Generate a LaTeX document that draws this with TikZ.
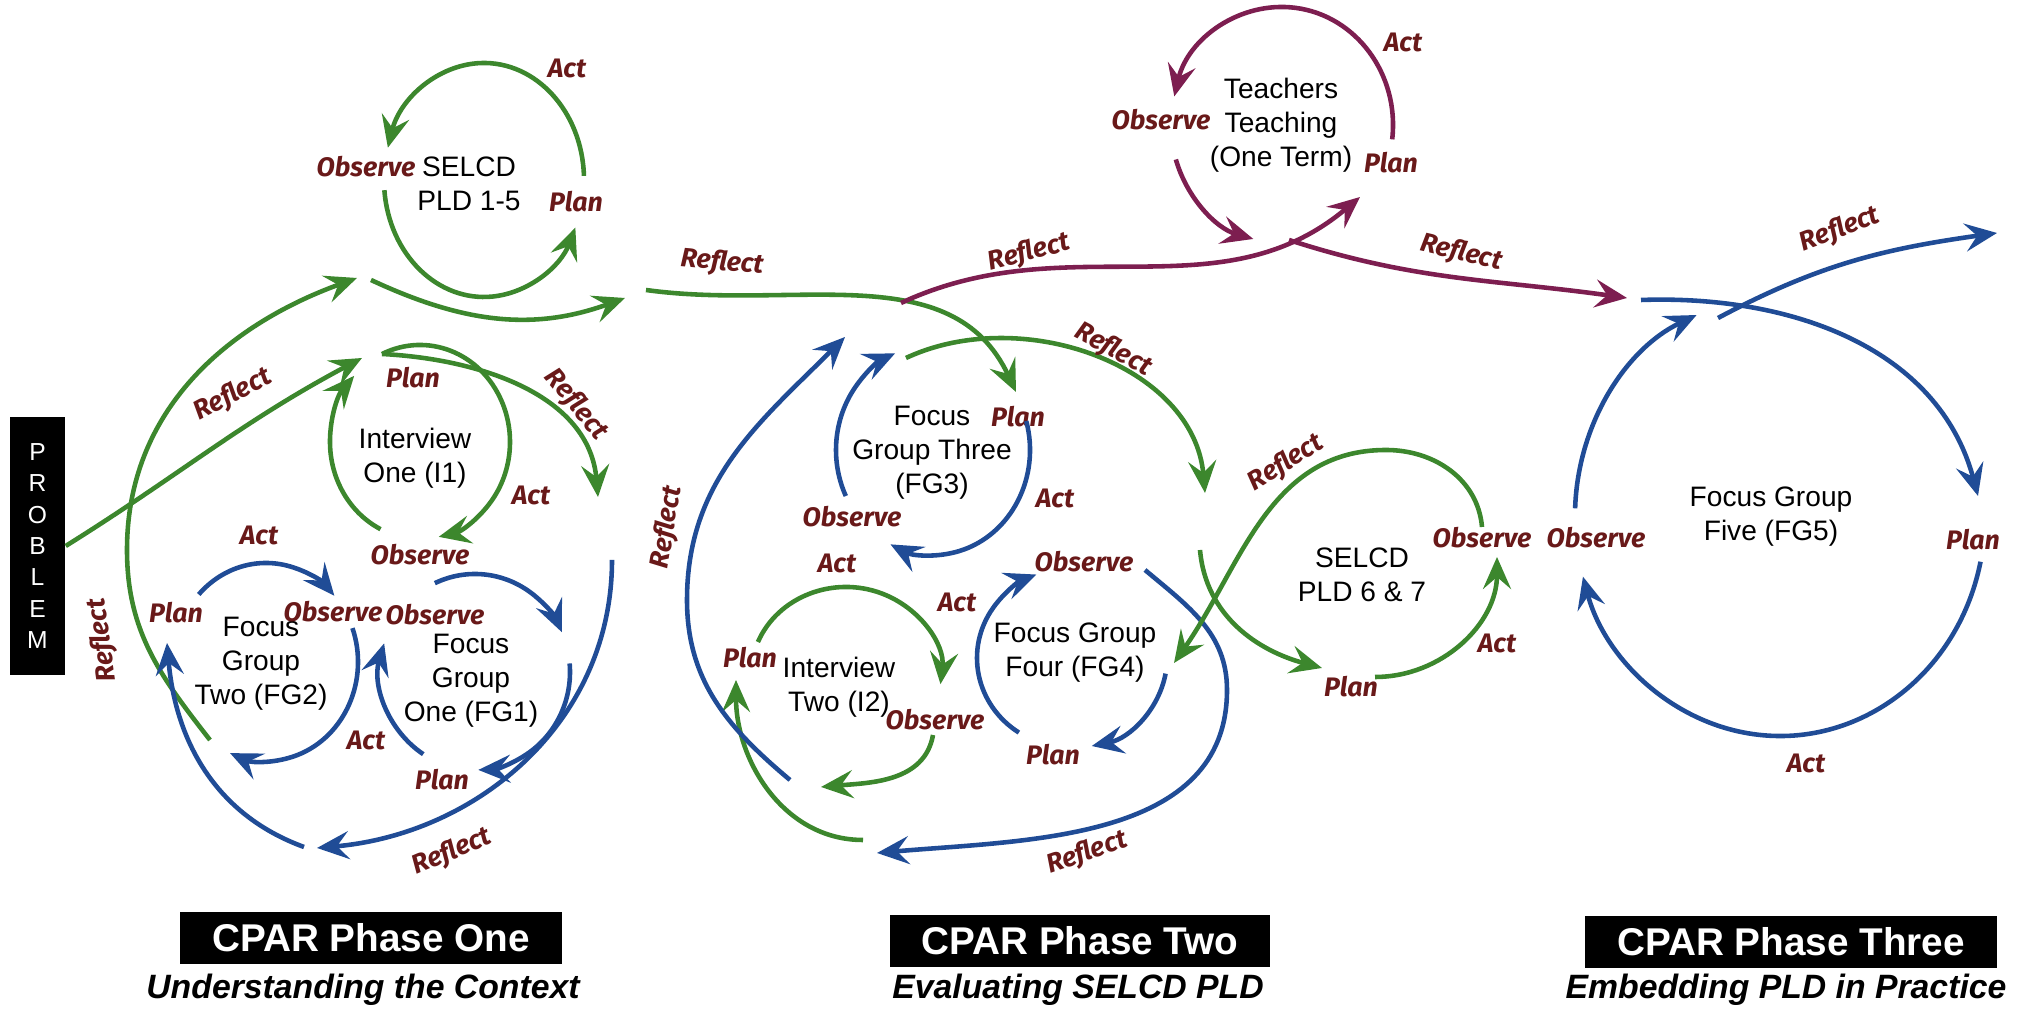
\documentclass[tikz,border=0pt]{standalone}
\usepackage{fontspec}
\setmainfont{Liberation Sans}
\newfontfamily\handfont{Fira Sans}
\usetikzlibrary{arrows.meta,positioning}
\definecolor{cgreen}{RGB}{60,135,45}
\definecolor{cblue}{RGB}{32,76,150}
\definecolor{cplum}{RGB}{125,30,80}
\definecolor{clabel}{RGB}{105,25,25}
\tikzset{
  flow/.style={line width=1.3pt,-{Stealth[length=3.2mm,width=2.8mm,inset=1.2mm]}},
  grn/.style={flow,draw=cgreen},
  blu/.style={flow,draw=cblue},
  plum/.style={flow,draw=cplum},
  stage/.style={font=\handfont\bfseries\itshape\fontsize{7.6}{8}\selectfont,text=clabel,inner sep=0pt},
  cyc/.style={font=\fontsize{8}{9.7}\selectfont,align=center,inner sep=0pt},
  phasebox/.style={fill=black,text=white,font=\bfseries\fontsize{11}{13}\selectfont,
                   inner xsep=3.2mm,inner ysep=0pt,minimum height=5.1mm},
  phasesub/.style={font=\bfseries\itshape\fontsize{9.6}{11}\selectfont,inner sep=0pt},
}

\begin{document}
\begin{tikzpicture}[x=0.01cm,y=0.01cm]
  \useasboundingbox (0,0) rectangle (2033,1010);

  % ===== Phase one =====
  \node[fill=black,text=white,minimum width=5.5mm,minimum height=25.8mm,inner sep=0pt,align=center,
        font=\fontsize{7}{8.9}\selectfont] (prob) at (37.5,464) {P\\R\\O\\B\\L\\E\\M};

  % SELCD PLD 1-5
  \coordinate (selA-c) at (484,830);
  \node[cyc] (selA) at (469,826) {SELCD\\PLD 1-5};
  \node[stage] (selA-act) at (567,942){Act};
  \node[stage] (selA-obs) at (366,843){Observe};
  \node[stage] (selA-plan) at (576,808){Plan};
  \draw[grn] ([shift={(2:100 and 117)}]selA-c) arc[start angle=2,end angle=164,x radius=100,y radius=117];
  \draw[grn] ([shift={(185:100 and 117)}]selA-c) arc[start angle=185,end angle=336,x radius=100,y radius=117];

  % Interview One
  \coordinate (i1-c) at (420,568);
  \node[cyc] (i1) at (415,552) {Interview\\One (I1)};
  \node[stage] (i1-plan) at (413,632){Plan};
  \node[stage] (i1-act) at (531,515){Act};
  \node[stage] (i1-obs) at (420,455){Observe};
  \draw[grn] ([shift={(115:90 and 97)}]i1-c) arc[start angle=115,end angle=-78,x radius=90,y radius=97];
  \draw[grn] ([shift={(244:90 and 97)}]i1-c) arc[start angle=244,end angle=137,x radius=90,y radius=97];

  % Focus Group Two
  \coordinate (fg2-c) at (266,348);
  \node[cyc] (fg2) at (261,346) {Focus\\Group\\Two (FG2)};
  \node[stage] (fg2-act) at (259,475){Act};
  \node[stage] (fg2-plan) at (176,397){Plan};
  \node[stage] (fg2-obs) at (333,398){Observe};
  \draw[blu] ([shift={(137:92 and 99)}]fg2-c) arc[start angle=137,end angle=42,x radius=92,y radius=99];
  \draw[blu] ([shift={(20:92 and 99)}]fg2-c) arc[start angle=20,end angle=-113,x radius=92,y radius=99];

  % Focus Group One
  \coordinate (fg1-c) at (475,338);
  \node[cyc] (fg1) at (471,329) {Focus\\Group\\One (FG1)};
  \node[stage] (fg1-obs) at (435,395){Observe};
  \node[stage] (fg1-act) at (366,270){Act};
  \node[stage] (fg1-plan) at (442,230){Plan};
  \draw[blu] ([shift={(115:95 and 98)}]fg1-c) arc[start angle=115,end angle=24,x radius=95,y radius=98];
  \draw[blu] ([shift={(5:95 and 98)}]fg1-c) arc[start angle=5,end angle=-88,x radius=95,y radius=98];
  \draw[blu] ([shift={(237:95 and 98)}]fg1-c) arc[start angle=237,end angle=163,x radius=95,y radius=98];

  % reflect links, phase one
  \coordinate (i1-in) at (362,652);
  \draw[grn] (prob.east) to[out=32,in=208] (i1-in);
  \node[stage,rotate=28] (r-prob) at (233,615){Reflect};
  \coordinate (fg2R-s) at (210,270); \coordinate (fg2R-m) at (127,460); \coordinate (selA-in) at (357,732);
  \draw[grn] (fg2R-s) to[out=128,in=-90] (fg2R-m) to[out=90,in=200] (selA-in);
  \node[stage,rotate=98] (r-fg2) at (103,370){Reflect};
  \coordinate (selA-o1) at (371,730); \coordinate (selA-o2) at (625,712);
  \draw[grn] (selA-o1) to[out=-25,in=200] (selA-o2);
  \coordinate (i1R-s) at (382,656); \coordinate (i1R-e) at (598,513);
  \draw[grn] (i1R-s) to[out=-3,in=95] (i1R-e);
  \node[stage,rotate=-50] (r-i1) at (576,605){Reflect};
  \coordinate (fg1R-s) at (612,450); \coordinate (fg1R-e) at (317,162);
  \draw[blu] (fg1R-s) to[out=-90,in=5] (fg1R-e);
  \node[stage,rotate=23] (r-fg1) at (452,158){Reflect};
  \coordinate (fg2L-s) at (304,163); \coordinate (fg2-in) at (167,367);
  \draw[blu] (fg2L-s) to[out=160,in=-85] (fg2-in);

  % ===== Phase two =====
  \coordinate (selA-r) at (646,720); \coordinate (fg3-in) at (1016,618);
  \draw[grn] (selA-r) to[out=-8,in=115] (fg3-in);
  \node[stage,rotate=-5] (r-selA) at (722,747){Reflect};

  % Focus Group Three
  \coordinate (fg3-c) at (933,560);
  \node[cyc] (fg3) at (932,557) {Focus\\Group Three\\(FG3)};
  \node[stage] (fg3-plan) at (1018,593){Plan};
  \node[stage] (fg3-act) at (1055,512){Act};
  \node[stage] (fg3-obs) at (852,493){Observe};
  \draw[blu] ([shift={(206:97 and 105)}]fg3-c) arc[start angle=206,end angle=113,x radius=97,y radius=105];
  \draw[blu] ([shift={(16:97 and 105)}]fg3-c) arc[start angle=16,end angle=-116,x radius=97,y radius=105];
  \coordinate (fg3R-s) at (906,652); \coordinate (fg3R-e) at (1205,517);
  \draw[grn] (fg3R-s) to[out=25,in=95] (fg3R-e);
  \node[stage,rotate=-28] (r-fg3) at (1113,660){Reflect};

  % Interview Two
  \coordinate (i2-c) at (846,335);
  \node[cyc] (i2) at (839,323) {Interview\\Two (I2)};
  \node[stage] (i2-plan) at (750,352){Plan};
  \node[stage] (i2-act) at (837,447){Act};
  \node[stage] (i2-obs) at (935,290){Observe};
  \draw[grn] ([shift={(158:95 and 88)}]i2-c) arc[start angle=158,end angle=-6,x radius=95,y radius=88];
  \coordinate (i2B-s) at (933,275); \coordinate (i2B-e) at (821,223);
  \draw[grn] (i2B-s) to[out=-100,in=5] (i2B-e);
  \coordinate (i2R-s) at (863,170); \coordinate (i2-in) at (736,330);
  \draw[grn] (i2R-s) to[out=180,in=-90] (i2-in);
  \coordinate (fg3L-s) at (790,230); \coordinate (fg3L-m) at (687,410); \coordinate (fg3-in2) at (845,673);
  \draw[blu] (fg3L-s) to[out=140,in=-90] (fg3L-m) to[out=90,in=225] (fg3-in2);
  \node[stage,rotate=81] (r-i2) at (667,483){Reflect};

  % Focus Group Four
  \coordinate (fg4-c) at (1072,352);
  \node[cyc] (fg4) at (1075,357) {Focus Group\\Four (FG4)};
  \node[stage] (fg4-obs) at (1084,448){Observe};
  \node[stage] (fg4-plan) at (1053,255){Plan};
  \node[stage] (fg4-act) at (957,408){Act};
  \draw[blu] ([shift={(236:95 and 90)}]fg4-c) arc[start angle=236,end angle=112,x radius=95,y radius=90];
  \draw[blu] ([shift={(-10:95 and 90)}]fg4-c) arc[start angle=-10,end angle=-78,x radius=95,y radius=90];
  \coordinate (fg4R-s) at (1145,440); \coordinate (fg4R-m) at (1227,320); \coordinate (fg4R-e) at (877,157);
  \draw[blu] (fg4R-s) to[out=-40,in=90] (fg4R-m) to[out=-90,in=5] (fg4R-e);
  \node[stage,rotate=19] (r-fg4) at (1087,157){Reflect};

  % SELCD PLD 6 & 7
  \node[cyc] (selB) at (1362,435) {SELCD\\PLD 6 \& 7};
  \node[stage] (selB-obs) at (1482,472){Observe};
  \node[stage] (selB-act) at (1497,367){Act};
  \node[stage] (selB-plan) at (1351,323){Plan};
  \coordinate (selB-p) at (1375,333); \coordinate (selB-o) at (1497,453);
  \draw[grn] (selB-p) to[out=0,in=-90] (selB-o);
  \coordinate (selB-s) at (1200,460); \coordinate (selB-in) at (1322,342);
  \draw[grn] (selB-s) to[out=-85,in=165] (selB-in);
  \coordinate (selB-r) at (1482,483); \coordinate (selB-top) at (1386,560); \coordinate (fg4-in) at (1174,347);
  \draw[grn] (selB-r) to[out=95,in=0] (selB-top) to[out=180,in=55] (fg4-in);
  \node[stage,rotate=32] (r-selB) at (1286,547){Reflect};

  % Teachers Teaching
  \coordinate (tt-c) at (1282,885);
  \node[cyc] (tt) at (1281,885) {Teachers\\Teaching\\(One Term)};
  \node[stage] (tt-act) at (1403,968){Act};
  \node[stage] (tt-obs) at (1161,890){Observe};
  \node[stage] (tt-plan) at (1391,847){Plan};
  \draw[plum] ([shift={(-7:111 and 118)}]tt-c) arc[start angle=-7,end angle=166,x radius=111,y radius=118];
  \draw[plum] ([shift={(197:111 and 118)}]tt-c) arc[start angle=197,end angle=255,x radius=111,y radius=118];
  \coordinate (ttR-s) at (901,707); \coordinate (tt-in) at (1360,813);
  \draw[plum] (ttR-s) to[out=25,in=220] (tt-in);
  \node[stage,rotate=15] (r-tt1) at (1029,757){Reflect};
  \coordinate (ttR2-s) at (1289,770); \coordinate (fg5-in) at (1627,712);
  \draw[plum] (ttR2-s) to[out=-18,in=172] (fg5-in);
  \node[stage,rotate=-13] (r-tt2) at (1461,757){Reflect};

  % ===== Phase three =====
  \coordinate (fg5-c) at (1780,494);
  \node[cyc] (fg5) at (1771,493) {Focus Group\\Five (FG5)};
  \node[stage] (fg5-obs) at (1596,472){Observe};
  \node[stage] (fg5-plan) at (1973,470){Plan};
  \node[stage] (fg5-act) at (1806,247){Act};
  \draw[blu] ([shift={(-12:205 and 220)}]fg5-c) arc[start angle=-12,end angle=-164,x radius=205,y radius=220];
  \draw[blu] ([shift={(178:205 and 220)}]fg5-c) arc[start angle=178,end angle=114,x radius=205,y radius=220];
  \coordinate (fg5T-s) at (1641,710); \coordinate (fg5T-e) at (1978,514);
  \draw[blu] (fg5T-s) to[out=2,in=105] (fg5T-e);
  \coordinate (fg5R-s) at (1718,692); \coordinate (fg5R-e) at (1997,777);
  \draw[blu] (fg5R-s) to[out=28,in=188] (fg5R-e);
  \node[stage,rotate=21] (r-fg5) at (1840,780){Reflect};

  % ===== phase captions =====
  \node[phasebox] (ph1) at (371,72){CPAR Phase One};
  \node[phasesub] (ph1s) at (363,20){Understanding the Context};
  \node[phasebox] (ph2) at (1080,69){CPAR Phase Two};
  \node[phasesub] (ph2s) at (1078,20){Evaluating SELCD PLD};
  \node[phasebox] (ph3) at (1791,68){CPAR Phase Three};
  \node[phasesub] (ph3s) at (1786,20){Embedding PLD in Practice};
\end{tikzpicture}
\end{document}
